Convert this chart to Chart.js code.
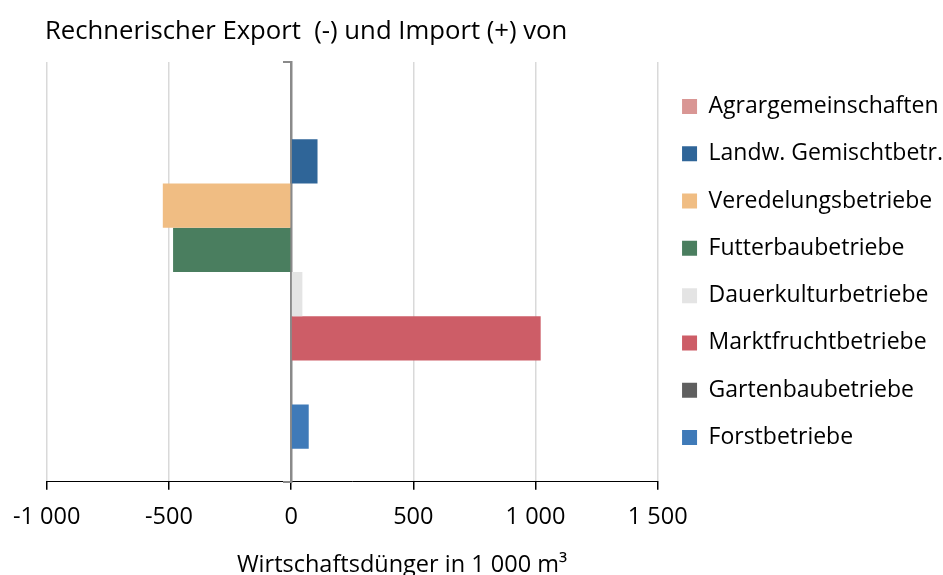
<!DOCTYPE html>
<html>
<head>
<meta charset="utf-8">
<script src="https://cdn.jsdelivr.net/npm/chart.js@4"></script>
<style>
  body { margin: 0; background: #fff; }
  #wrap { width: 943px; height: 575px; }
</style>
</head>
<body>
<div id="wrap"><canvas id="chart" width="943" height="575"></canvas></div>
<script>
// Daten (1 000 m³)
const betriebsformen = [
    "Agrargemeinschaften",
    "Landw. Gemischtbetr.",
    "Veredelungsbetriebe",
    "Futterbaubetriebe",
    "Dauerkulturbetriebe",
    "Marktfruchtbetriebe",
    "Gartenbaubetriebe",
    "Forstbetriebe"
];
const saldo = [0, 108, -525, -483, 46, 1021, 3, 72];
const farben = ["#d99694", "#2f6598", "#f0bd83", "#4a7e5f", "#e4e4e4", "#cd5d67", "#5f5f5f", "#3f7ab8"];
const xTickWerte = [-1000, -500, 0, 500, 1000, 1500];
const xTickLabels = ["-1 000", "-500", "0", "500", "1 000", "1 500"];
const achsenTitel = "Wirtschaftsdünger in 1 000 m³";

const schrift = "'Open Sans', 'Liberation Sans', sans-serif";

// Die y-Achse liegt bei x = 0 im Diagramm; sie soll der Legende keinen Platz wegnehmen
const yAchseAusLayout = {
    id: "yAchseAusLayout",
    beforeLayout(chart) {
        chart.scales.y.options.display = false;
    },
    afterLayout(chart) {
        chart.scales.y.options.display = true;
    }
};

// Achsentitel etwas rechts der Mitte wie im Original
const achsenTitelPlugin = {
    id: "achsenTitel",
    afterDraw(chart, args, opts) {
        const ctx = chart.ctx;
        ctx.save();
        ctx.font = opts.size + "px " + schrift;
        ctx.fillStyle = "#000";
        ctx.textAlign = "center";
        ctx.textBaseline = "middle";
        ctx.fillText(opts.text, opts.x, opts.y);
        ctx.restore();
    }
};

function zeichnen() {
    const datasets = betriebsformen.map((name, i) => ({
        label: name,
        data: [saldo[i]],
        backgroundColor: farben[i],
        borderWidth: 0,
        categoryPercentage: 0.843,
        barPercentage: 1
    }));

    new Chart(document.getElementById("chart"), {
        type: "bar",
        data: {
            labels: [""],
            datasets: datasets
        },
        plugins: [yAchseAusLayout, achsenTitelPlugin],
        options: {
            indexAxis: "y",
            responsive: false,
            animation: false,
            layout: {
                padding: { left: 45, right: -10, top: 0, bottom: 31 }
            },
            plugins: {
                title: {
                    display: true,
                    text: "Rechnerischer Export  (-) und Import (+) von",
                    align: "start",
                    color: "#000",
                    font: { family: schrift, size: 25.7, weight: "normal", lineHeight: 1.2 },
                    padding: { top: 16, bottom: 15.2 }
                },
                legend: {
                    position: "right",
                    align: "center",
                    labels: {
                        color: "#000",
                        boxWidth: 15,
                        boxHeight: 15,
                        padding: 24.3,
                        font: { family: schrift, size: 23, lineHeight: 1.2 }
                    }
                },
                achsenTitel: { text: achsenTitel, x: 402, y: 565, size: 23.5 },
                tooltip: { enabled: false }
            },
            scales: {
                x: {
                    type: "linear",
                    min: -1000,
                    max: 1500,
                    afterBuildTicks: axis => {
                        axis.ticks = xTickWerte.map(v => ({ value: v }));
                    },
                    ticks: {
                        color: "#000",
                        padding: 13,
                        font: { family: schrift, size: 23.5, lineHeight: 1.2 },
                        callback: value => xTickLabels[xTickWerte.indexOf(value)]
                    },
                    grid: {
                        color: "#d9d9d9",
                        lineWidth: 1.5,
                        tickColor: "#000",
                        tickLength: 8
                    },
                    border: { color: "#000", width: 1 }
                },
                y: {
                    type: "category",
                    position: { x: 0 },
                    z: 1,
                    ticks: { display: false },
                    grid: {
                        drawOnChartArea: false,
                        color: "#8a8a8a",
                        tickLength: 7,
                        lineWidth: 2
                    },
                    border: { color: "#8a8a8a", width: 2.5 }
                }
            }
        }
    });
}

document.fonts.load("23px 'Open Sans'").then(zeichnen, zeichnen);
</script>
</body>
</html>
